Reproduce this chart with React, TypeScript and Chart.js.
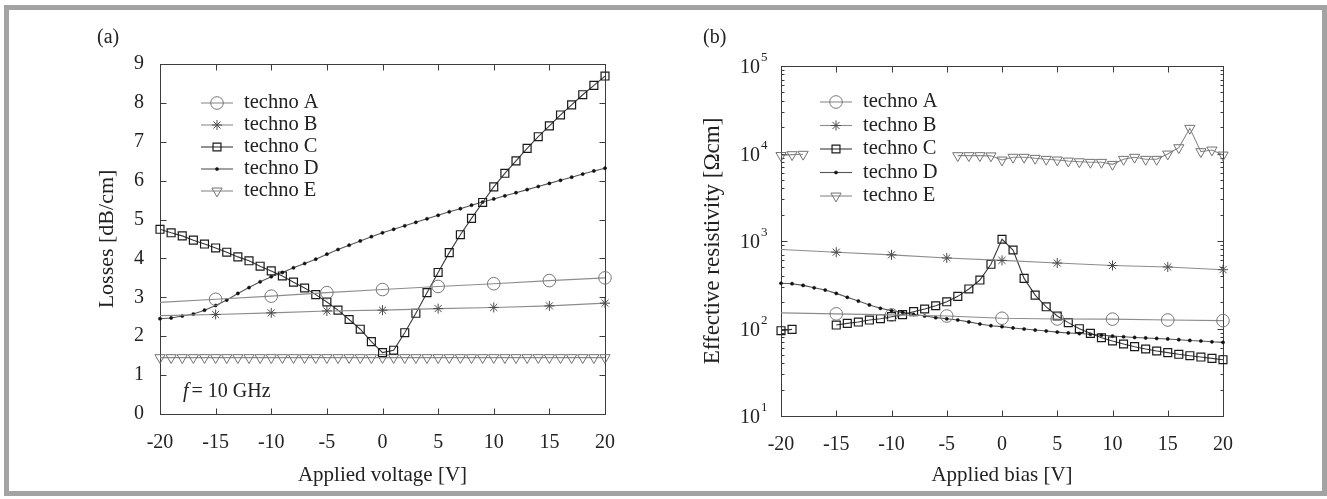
import React, { useEffect, useRef } from 'react';
import { Chart, registerables } from 'chart.js';
import { drawPoint } from 'chart.js/helpers';

Chart.register(...registerables);

const FONT = '"Liberation Serif", "Times New Roman", serif';
const INK = '#222222';

// ---------- shared x values ----------
const voltsAll = [-20, -19, -18, -17, -16, -15, -14, -13, -12, -11, -10, -9, -8, -7, -6, -5, -4, -3, -2, -1, 0, 1, 2, 3, 4, 5, 6, 7, 8, 9, 10, 11, 12, 13, 14, 15, 16, 17, 18, 19, 20];
const voltsFive = [-20, -15, -10, -5, 0, 5, 10, 15, 20];

const seriesNames = ['techno A', 'techno B', 'techno C', 'techno D', 'techno E'];

// ---------- panel (a): losses [dB/cm] ----------
const lossA = [2.87, 2.95, 3.03, 3.12, 3.2, 3.28, 3.35, 3.43, 3.5];
const lossB = [2.53, 2.56, 2.6, 2.65, 2.67, 2.71, 2.74, 2.78, 2.85];
const lossC = [4.75, 4.66, 4.58, 4.47, 4.37, 4.27, 4.16, 4.04, 3.94, 3.8, 3.68, 3.55, 3.39, 3.24, 3.07, 2.88, 2.67, 2.43, 2.18, 1.86, 1.58, 1.64, 2.09, 2.59, 3.12, 3.64, 4.15, 4.61, 5.03, 5.44, 5.84, 6.19, 6.51, 6.83, 7.13, 7.41, 7.69, 7.95, 8.21, 8.45, 8.69];
const lossD = [2.45, 2.47, 2.52, 2.57, 2.67, 2.79, 2.93, 3.1, 3.25, 3.4, 3.53, 3.64, 3.76, 3.87, 3.98, 4.11, 4.23, 4.34, 4.45, 4.56, 4.66, 4.75, 4.84, 4.93, 5.02, 5.11, 5.2, 5.28, 5.37, 5.45, 5.53, 5.61, 5.69, 5.77, 5.85, 5.93, 6.01, 6.09, 6.17, 6.25, 6.32];
const lossE = [1.45, 1.45, 1.45, 1.45, 1.45, 1.45, 1.45, 1.45, 1.45, 1.45, 1.45, 1.45, 1.45, 1.45, 1.45, 1.45, 1.45, 1.45, 1.45, 1.45, 1.45, 1.45, 1.45, 1.45, 1.45, 1.45, 1.45, 1.45, 1.45, 1.45, 1.45, 1.45, 1.45, 1.45, 1.45, 1.45, 1.45, 1.45, 1.45, 1.45, 1.45];
const lossTicks = [0, 1, 2, 3, 4, 5, 6, 7, 8, 9];

// ---------- panel (b): effective resistivity [Ωcm] ----------
const resA = [151, 147, 143, 139, 131, 128.5, 128, 125, 123];
const resB = [800, 745, 695, 640, 600, 560, 525, 505, 470];
const resC = [94.4, 97.8, null, null, null, 109.6, 114.5, 118.5, 125, 129.5, 136.5, 144, 155.7, 167, 182, 202, 233, 283, 358, 542, 1047, 789, 374, 241, 177, 139, 116.7, 99.5, 88, 78.5, 72, 66.5, 62, 58.3, 55.3, 53, 50.7, 48.9, 47.2, 45.6, 44];
const resD = [329, 325, 311, 292, 275, 252, 227, 206, 186, 170, 160, 153, 145, 139, 133, 129, 125, 119, 112.5, 107.6, 105, 101.4, 98.7, 96, 93.6, 91, 89, 87.5, 86, 84, 82, 80.5, 79, 78, 77, 76, 74.5, 73, 72, 70.5, 69.5];
const resE = [9500, 9700, 9800, null, null, null, null, null, null, null, null, null, null, null, null, null, 9450, 9450, 9450, 9400, 8430, 9060, 9060, 8810, 8580, 8430, 8200, 8050, 7930, 7930, 7520, 8580, 9060, 8580, 8580, 9860, 11650, 19400, 10500, 10970, 9610];
const resDecades = [1, 2, 3, 4, 5];

// ---------- marker styles ----------
const STYLES = [
  { line: '#8c8c8c', stroke: '#767676', fill: 'rgba(0,0,0,0)', pointStyle: 'circle', radius: 6.3, rotation: 0, bw: 1 },
  { line: '#8c8c8c', stroke: '#4a4a4a', fill: 'rgba(0,0,0,0)', pointStyle: 'star', radius: 5, rotation: 0, bw: 1 },
  { line: '#3a3a3a', stroke: '#1a1a1a', fill: 'rgba(0,0,0,0)', pointStyle: 'rect', radius: 5.6, rotation: 0, bw: 1.2 },
  { line: '#555555', stroke: '#111111', fill: '#111111', pointStyle: 'circle', radius: 1.6, rotation: 0, bw: 0.5 },
  { line: '#8a8a8a', stroke: '#727272', fill: 'rgba(0,0,0,0)', pointStyle: 'triangle', radius: 5.9, rotation: 180, bw: 1 },
];

function makeDataset(i: number, xs: number[], ys: (number | null)[], skipFirstMarker: boolean) {
  const s = STYLES[i];
  return {
    label: seriesNames[i],
    data: xs.map((x, k) => ({ x, y: ys[k] })),
    borderColor: s.line,
    borderWidth: 1.1,
    pointStyle: s.pointStyle,
    pointRotation: s.rotation,
    pointRadius: skipFirstMarker ? (c: any) => (c.dataIndex === 0 ? 0 : s.radius) : s.radius,
    pointBorderColor: s.stroke,
    pointBackgroundColor: s.fill,
    pointBorderWidth: s.bw,
    spanGaps: false,
    tension: 0,
    clip: false as any,
  };
}

const gnuPlugin = {
  id: 'gnu',
  beforeDatasetsDraw(chart: any, _args: any, opts: any) {
    const { ctx, chartArea: a } = chart;
    const x = chart.scales.x;
    const y = chart.scales.y;
    const line = (x1: number, y1: number, x2: number, y2: number) => {
      ctx.beginPath();
      ctx.moveTo(x1, y1);
      ctx.lineTo(x2, y2);
      ctx.stroke();
    };
    ctx.save();
    ctx.strokeStyle = '#3c3c3c';
    ctx.lineWidth = 1;
    const L = Math.round(a.left) + 0.5, R = Math.round(a.right) + 0.5;
    const T = Math.round(a.top) + 0.5, B = Math.round(a.bottom) + 0.5;
    ctx.strokeRect(L, T, R - L, B - T);
    x.ticks.forEach((t: any) => {
      const px = Math.round(x.getPixelForValue(t.value)) + 0.5;
      line(px, B, px, B - 6);
      line(px, T, px, T + 6);
    });
    if (opts.log) {
      for (const k of [1, 2, 3, 4]) {
        for (let m = 1; m <= 9; m++) {
          const v = m * Math.pow(10, k);
          const py = Math.round(y.getPixelForValue(v)) + 0.5;
          const len = m === 1 ? 6 : 3;
          line(L, py, L + len, py);
          line(R, py, R - len, py);
        }
      }
    } else {
      y.ticks.forEach((t: any) => {
        const py = Math.round(y.getPixelForValue(t.value)) + 0.5;
        line(L, py, L + 6, py);
        line(R, py, R - 6, py);
      });
    }
    ctx.restore();
  },
  afterDraw(chart: any, _args: any, opts: any) {
    const { ctx, chartArea: a } = chart;
    ctx.save();
    // panel label
    ctx.fillStyle = INK;
    ctx.font = `20px ${FONT}`;
    ctx.textAlign = 'left';
    ctx.textBaseline = 'middle';
    ctx.fillText(opts.panel, opts.panelX, opts.panelY);
    // legend
    chart.data.datasets.forEach((ds: any, i: number) => {
      const s = STYLES[i];
      const yy = opts.legY + i * opts.legGap;
      ctx.strokeStyle = s.line;
      ctx.lineWidth = 1.1;
      ctx.beginPath();
      ctx.moveTo(opts.legX, yy);
      ctx.lineTo(opts.legX + opts.legLen, yy);
      ctx.stroke();
      ctx.strokeStyle = s.stroke;
      ctx.fillStyle = s.fill;
      ctx.lineWidth = s.bw;
      drawPoint(ctx, { pointStyle: s.pointStyle, rotation: s.rotation, radius: s.radius, borderWidth: s.bw } as any, opts.legX + opts.legLen / 2, yy);
      ctx.fillStyle = INK;
      ctx.font = `20.5px ${FONT}`;
      ctx.textAlign = 'left';
      ctx.textBaseline = 'middle';
      ctx.fillText(ds.label, opts.legX + opts.legLen + 11, yy);
    });
    // frequency note
    if (opts.note) {
      ctx.fillStyle = INK;
      ctx.textBaseline = 'middle';
      ctx.textAlign = 'left';
      ctx.font = `italic 20px ${FONT}`;
      ctx.fillText('f', opts.noteX, opts.noteY);
      const w = ctx.measureText('f').width;
      ctx.font = `20px ${FONT}`;
      ctx.fillText('= 10 GHz', opts.noteX + w + 3, opts.noteY);
    }
    // log labels 10^k
    if (opts.log) {
      const y = chart.scales.y;
      resDecades.forEach((k) => {
        const py = y.getPixelForValue(Math.pow(10, k));
        ctx.fillStyle = INK;
        ctx.textBaseline = 'middle';
        ctx.font = `20px ${FONT}`;
        ctx.textAlign = 'right';
        ctx.fillText('10', a.left - 21, py + 2);
        ctx.font = `13px ${FONT}`;
        ctx.textAlign = 'left';
        ctx.fillText(String(k), a.left - 20, py - 8);
      });
    }
    ctx.restore();
  },
};

function baseScaleX(title: string, bottomPad: number, plotBottom: number) {
  return {
    type: 'linear' as const,
    min: -20,
    max: 20,
    ticks: { stepSize: 5, padding: 17, maxRotation: 0, color: INK, font: { family: FONT, size: 20 } },
    grid: { display: false, drawTicks: false },
    border: { display: false },
    title: { display: true, text: title, color: INK, font: { family: FONT, size: 21 }, padding: 0 },
    afterFit: (s: any) => {
      s.height = 499 - bottomPad - plotBottom;
    },
  };
}

function PanelA() {
  const ref = useRef<HTMLCanvasElement>(null);
  useEffect(() => {
    const chart = new Chart(ref.current!, {
      type: 'line',
      data: {
        datasets: [
          makeDataset(0, voltsFive, lossA, true),
          makeDataset(1, voltsFive, lossB, true),
          makeDataset(2, voltsAll, lossC, false),
          makeDataset(3, voltsAll, lossD, false),
          makeDataset(4, voltsAll, lossE, false),
        ] as any,
      },
      options: {
        animation: false,
        responsive: false,
        events: [],
        layout: { padding: { left: 94, right: 55, top: 64, bottom: 11 } },
        plugins: {
          legend: { display: false },
          tooltip: { enabled: false },
          gnu: { panel: '(a)', panelX: 97, panelY: 38, legX: 201, legLen: 32, legY: 103, legGap: 22, note: true, noteX: 183, noteY: 392, log: false },
        } as any,
        scales: {
          x: baseScaleX('Applied voltage [V]', 11, 414) as any,
          y: {
            type: 'linear',
            min: lossTicks[0],
            max: lossTicks[lossTicks.length - 1],
            afterBuildTicks: (s: any) => {
              s.ticks = lossTicks.map((v) => ({ value: v }));
            },
            ticks: { padding: 16, color: INK, font: { family: FONT, size: 20 } },
            grid: { display: false, drawTicks: false },
            border: { display: false },
            title: { display: true, text: 'Losses [dB/cm]', color: INK, font: { family: FONT, size: 22 }, padding: 0 },
            afterFit: (s: any) => {
              s.width = 66;
            },
          } as any,
        },
      },
      plugins: [gnuPlugin],
    });
    return () => chart.destroy();
  }, []);
  return <canvas ref={ref} width={660} height={499} style={{ position: 'absolute', left: 0, top: 0, width: 660, height: 499 }} />;
}

function PanelB() {
  const ref = useRef<HTMLCanvasElement>(null);
  useEffect(() => {
    const chart = new Chart(ref.current!, {
      type: 'line',
      data: {
        datasets: [
          makeDataset(0, voltsFive, resA, true),
          makeDataset(1, voltsFive, resB, true),
          makeDataset(2, voltsAll, resC, false),
          makeDataset(3, voltsAll, resD, false),
          makeDataset(4, voltsAll, resE, false),
        ] as any,
      },
      options: {
        animation: false,
        responsive: false,
        events: [],
        layout: { padding: { left: 39, right: 104, top: 66, bottom: 11 } },
        plugins: {
          legend: { display: false },
          tooltip: { enabled: false },
          gnu: { panel: '(b)', panelX: 43, panelY: 38, legX: 160, legLen: 32, legY: 102, legGap: 23.5, note: false, log: true },
        } as any,
        scales: {
          x: baseScaleX('Applied bias [V]', 11, 416) as any,
          y: {
            type: 'logarithmic',
            min: 10,
            max: 100000,
            ticks: { display: false },
            grid: { display: false, drawTicks: false },
            border: { display: false },
            title: { display: true, text: 'Effective resistivity [Ωcm]', color: INK, font: { family: FONT, size: 23 }, padding: 0 },
            afterFit: (s: any) => {
              s.width = 82;
            },
          } as any,
        },
      },
      plugins: [gnuPlugin],
    });
    return () => chart.destroy();
  }, []);
  return <canvas ref={ref} width={667} height={499} style={{ position: 'absolute', left: 660, top: 0, width: 667, height: 499 }} />;
}

export default function App() {
  return (
    <div style={{ position: 'absolute', left: 0, top: 0, width: 1327, height: 499, background: '#ffffff', overflow: 'hidden' }}>
      <PanelA />
      <PanelB />
      <div
        style={{
          position: 'absolute',
          left: 4,
          top: 5,
          width: 1323,
          height: 491,
          border: '5px solid #a3a3a3',
          boxSizing: 'border-box',
          pointerEvents: 'none',
        }}
      />
    </div>
  );
}
